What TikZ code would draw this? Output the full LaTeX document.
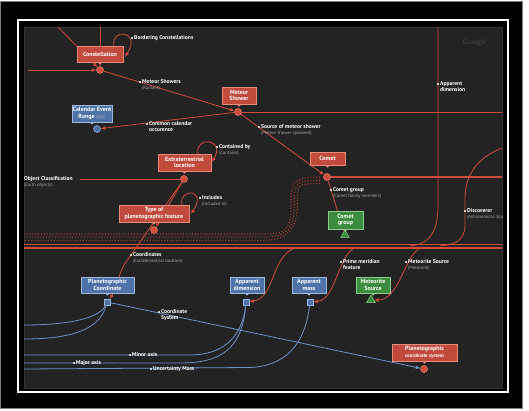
\documentclass[tikz,border=0pt]{standalone}
\usepackage{fontspec}
\setmainfont{PT Sans}
\newfontfamily\logofont{Liberation Serif}
\usetikzlibrary{arrows.meta,shapes.geometric}

\definecolor{panel}{HTML}{232323}
\definecolor{redbox}{HTML}{C04A3C}
\definecolor{rededge}{HTML}{E88A7C}
\definecolor{redline}{HTML}{D24B3A}
\definecolor{bluebox}{HTML}{4F73A8}
\definecolor{blueedge}{HTML}{9DB8DD}
\definecolor{blueline}{HTML}{6D92C8}
\definecolor{greenbox}{HTML}{3B8C3E}
\definecolor{greenedge}{HTML}{8CCB8C}
\definecolor{subgray}{HTML}{AAAAAA}

\newcommand{\subl}[1]{{\color{subgray}\fontsize{4.6}{5.2}\selectfont\mdseries #1}}
% small pointer under a box
\newcommand{\notch}[2]{\fill[#2] ([xshift=-2.2pt]#1.south) -- ([xshift=2.2pt]#1.south) -- ([yshift=-2.4pt]#1.south) -- cycle;}

\tikzset{
  box/.style={draw, line width=0.5pt, text=white, align=center, inner sep=0.5pt,
    font=\fontsize{6}{6.4}\selectfont\bfseries},
  rednode/.style={box, fill=redbox, draw=rededge},
  bluenode/.style={box, fill=bluebox, draw=blueedge},
  greennode/.style={box, fill=greenbox, draw=greenedge},
  rdot/.style={circle, fill=redline, draw=rededge, line width=0.5pt, minimum size=7pt, inner sep=0pt},
  bdot/.style={circle, fill=bluebox, draw=blueedge, line width=0.5pt, minimum size=7pt, inner sep=0pt},
  bsq/.style={rectangle, fill=bluebox, draw=blueedge, line width=0.5pt, minimum size=6pt, inner sep=0pt},
  gtri/.style={regular polygon, regular polygon sides=3, fill=greenbox, draw=greenedge,
    line width=0.5pt, minimum size=10pt, inner sep=0pt},
  rline/.style={draw=redline, line width=0.8pt},
  rarrow/.style={rline, -{Latex[length=4.5pt,width=4pt]}},
  bline/.style={draw=blueline, line width=0.8pt},
  barrow/.style={bline, -{Latex[length=4.5pt,width=4pt]}},
  ldot/.style={circle, fill=white, minimum size=2.4pt, inner sep=0pt},
  ltext/.style={anchor=north west, text=white, align=left, inner sep=0.5pt,
    font=\fontsize{5.6}{6}\selectfont\bfseries},
}

\begin{document}
\begin{tikzpicture}[x=1pt, y=-1pt]
\useasboundingbox (0,0) rectangle (529,411);
\fill[white] (0,0) rectangle (529,411);
% frame
\fill[black, draw=gray] (0.5,1) rectangle (522,408.5);
\draw[white, line width=2.5pt] (18,20) rectangle (508,392);
\fill[panel, draw=gray!40!black, line width=0.8pt] (24,27) rectangle (502,388);
\node[text=gray!55!black, font=\logofont\fontsize{8}{8}\selectfont] (google) at (475,43) {Google};

\begin{scope}
\clip (24,27) rectangle (502,388);

% markers
\node[rdot] (cconst) at (100,70) {};
\node[rdot] (cmeteor) at (238,112) {};
\node[bdot] (ccal) at (97,129) {};
\node[rdot] (cet) at (184,179) {};
\node[rdot] (ctype) at (154,230) {};
\node[rdot] (ccomet) at (327,177) {};
\node[gtri] (tcgroup) at (345,235) {};
\node[bsq] (spcoord) at (107,302) {};
\node[bsq] (sappdim) at (246,302) {};
\node[bsq] (sappmass) at (310,302) {};
\node[gtri] (tmetsrc) at (371,300) {};
\node[rdot] (cpcs) at (424,369) {};

% free ends
\coordinate (topa) at (58,27);
\coordinate (topb) at (100,27);
\coordinate (lefta) at (28,70);
\coordinate (righta) at (502,112);
\coordinate (leftb) at (80,179);
\coordinate (rightb) at (502,177);
\coordinate (topc) at (438,27);
\coordinate (rightc) at (502,148);

% background bands
\foreach \d in {0,3.2,6.4}
  \draw[redline!85!black, line width=1.1pt, dash pattern=on 1pt off 1.9pt]
    (320,177+\d) .. controls (290+\d,177+\d) and (291+\d,185) .. (291+\d,205)
    .. controls (291+\d,232) and (284,234+\d) .. (262,234+\d) -- (24,234+\d);
\draw[redline, line width=1.4pt] (24,244.5) -- (502,244.5);
\draw[redline, line width=1.4pt] (24,248) -- (502,248);

% red connectors
\draw[rarrow] (topa) -- (cconst);
\draw[rarrow] (topb) -- (cconst);
\draw[rarrow] (lefta) -- (cconst);
\draw[rarrow] (114,46) .. controls (110,28) and (142,30) .. (125,57);
\draw[rarrow] (cconst) -- (cmeteor);
\draw[rarrow] (cmeteor) -- (ccal);
\draw[rline] (cmeteor) -- (righta);
\draw[rarrow] (cmeteor) -- (ccomet);
\draw[rarrow] (198,154) .. controls (194,136) and (226,138) .. (212,162);
\draw[rline] (leftb) -- (cet);
\draw[rarrow] (cet) -- (ctype);
\draw[rarrow] (cet) -- (124,265) .. controls (118,276) and (116,290) .. (spcoord);
\draw[rarrow] (182,205) .. controls (178,188) and (208,188) .. (191,214);
\draw[redline, line width=1.8pt] (ccomet) -- (rightb);
\draw[rline] (ccomet) -- (tcgroup);
\draw[rline] (topc) -- (438,205) .. controls (438,232) and (430,244) .. (410,246);
\draw[rline] (rightc) .. controls (472,160) and (465,180) .. (465,200) -- (465,225)
  .. controls (465,240) and (455,245) .. (440,246);
\draw[rarrow] (298,247) .. controls (270,254) and (276,298) .. (sappdim);
\draw[rarrow] (356,247) .. controls (338,254) and (336,300) .. (sappmass);
\draw[rarrow] (422,247) .. controls (404,254) and (400,300) .. (tmetsrc);

% blue connectors
\draw[bline] (spcoord) .. controls (100,318) and (70,325) .. (24,325);
\draw[bline] (spcoord) .. controls (100,330) and (70,339) .. (24,339);
\draw[barrow] (spcoord) -- (cpcs);
\draw[bline] (sappdim) .. controls (242,340) and (220,355) .. (190,355) -- (24,355);
\draw[bline] (sappdim) .. controls (242,350) and (220,363) .. (180,363) -- (24,363);
\draw[bline] (sappmass) .. controls (305,345) and (285,366) .. (250,367.5) -- (24,369);

% boxes
\node[rednode, minimum width=46pt, minimum height=16pt] (constellation) at (100,54) {Constellation};
\node[rednode, minimum width=34pt, minimum height=17pt] (meteor) at (239,95.5) {Meteor\\Shower};
\node[bluenode, minimum width=38pt, minimum height=17pt] (calendar) at (92,113.5)
  {Calendar Event\\Range \subl{(day)}};
\node[rednode, minimum width=53pt, minimum height=17pt] (extra) at (184.5,162.5) {Extraterrestrial\\location};
\node[rednode, minimum width=35pt, minimum height=13pt] (comet) at (327.5,158.5) {Comet};
\node[rednode, minimum width=70pt, minimum height=17pt] (typefeat) at (154,213.5)
  {Type of\\planetographic feature};
\node[greennode, minimum width=35pt, minimum height=18pt] (cometgroup) at (345.5,220) {Comet\\group};
\node[bluenode, minimum width=53pt, minimum height=16pt] (pcoord) at (107.5,285) {Planetographic\\Coordinate};
\node[bluenode, minimum width=34pt, minimum height=16pt] (appdim) at (247,285) {Apparent\\dimension};
\node[bluenode, minimum width=34pt, minimum height=16pt] (appmass) at (309,285) {Apparent\\mass};
\node[greennode, minimum width=34pt, minimum height=16pt] (metsrc) at (373,285) {Meteorite\\Source};
\node[rednode, minimum width=65pt, minimum height=17pt] (pcs) at (424.5,352.5)
  {Planetographic\\{\fontsize{5}{5.4}\selectfont coordinate system}};
\notch{constellation}{rededge}
\notch{meteor}{rededge}
\notch{calendar}{blueedge}
\notch{extra}{rededge}
\notch{comet}{rededge}
\notch{typefeat}{rededge}
\notch{cometgroup}{greenedge}
\notch{pcoord}{blueedge}
\notch{appdim}{blueedge}
\notch{appmass}{blueedge}
\notch{metsrc}{greenedge}
\notch{pcs}{rededge}

% labels
\node[ldot] (d1) at (132,38) {};
\node[ltext] (l1) at (133.5,35) {Bordering Constellations};
\node[ldot] (d2) at (140,82) {};
\node[ltext] (l2) at (141.5,79) {Meteor Showers\\\subl{(Radiant)}};
\node[ldot] (d3) at (147,124) {};
\node[ltext] (l3) at (148.5,121) {Common calendar\\occurence};
\node[ldot] (d4) at (259,127) {};
\node[ltext] (l4) at (260.5,124) {Source of meteor shower\\\subl{(Meteor shower spawned)}};
\node[ldot] (d5) at (217,147) {};
\node[ltext] (l5) at (218.5,144) {Contained by\\\subl{(Contains)}};
\node[ltext] (l6) at (23.5,176) {Object Classification\\\subl{(Earth objects)}};
\node[ldot] (d7) at (200,198) {};
\node[ltext] (l7) at (201.5,195) {Includes\\\subl{(Included in)}};
\node[ldot] (d8) at (331,190) {};
\node[ltext] (l8) at (332.5,187) {Comet group\\\subl{(Comet family members)}};
\node[ldot] (d9) at (131,255) {};
\node[ltext] (l9) at (132.5,252) {Coordinates\\\subl{(Extraterrestrial location)}};
\node[ldot] (d10) at (438,84) {};
\node[ltext] (l10) at (439.5,81) {Apparent\\dimension};
\node[ldot] (d11) at (465,211) {};
\node[ltext] (l11) at (466.5,208) {Discoverer\\\subl{(Astronomical object)}};
\node[ldot] (d12) at (159,312) {};
\node[ltext] (l12) at (160.5,309) {Coordinate\\System};
\node[ldot] (d13) at (341,262) {};
\node[ltext] (l13) at (342.5,259) {Prime meridian\\feature};
\node[ldot] (d14) at (406,262) {};
\node[ltext] (l14) at (407.5,259) {Meteorite Source\\\subl{(Meteorite)}};
\node[ldot] (d15) at (130,355) {};
\node[ltext] (l15) at (131.5,352) {Minor axis};
\node[ldot] (d16) at (74,363) {};
\node[ltext] (l16) at (75.5,360) {Major axis};
\node[ldot] (d17) at (151,369) {};
\node[ltext] (l17) at (152.5,366) {Uncertainty Mass};
\end{scope}
\end{tikzpicture}
\end{document}
